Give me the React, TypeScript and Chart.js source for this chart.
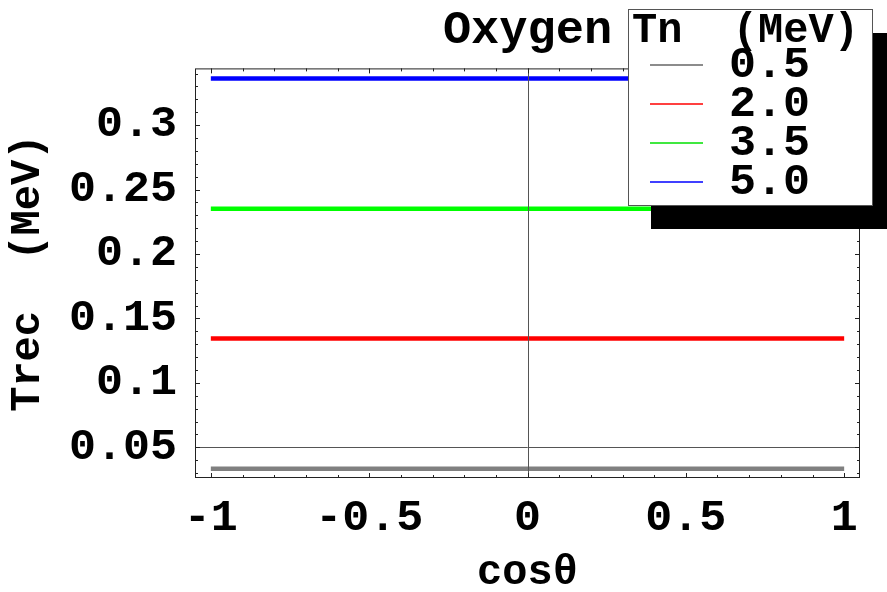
import React, { useEffect, useRef } from 'react';
import { Chart, registerables } from 'chart.js';

Chart.register(...registerables);

// ---- data ----
const cosTheta = [-1, -0.5, 0, 0.5, 1];
const seriesLabels = ['0.5', '2.0', '3.5', '5.0'];
const trecTn05 = [0.0333, 0.0333, 0.0333, 0.0333, 0.0333];
const trecTn20 = [0.1345, 0.1345, 0.1345, 0.1345, 0.1345];
const trecTn35 = [0.2352, 0.2352, 0.2352, 0.2352, 0.2352];
const trecTn50 = [0.3362, 0.3362, 0.3362, 0.3362, 0.3362];
const seriesColors = ['#808080', '#ff0000', '#00ff00', '#0000ff'];
const legendLineColors = ['#666666', '#ff0000', '#00e000', '#0000ff'];
const xTickValues = [-1, -0.5, 0, 0.5, 1];
const xTickLabels = ['-1', '-0.5', '0', '0.5', '1'];
const yTickValues = [0.05, 0.1, 0.15, 0.2, 0.25, 0.3];
const yTickLabels = ['0.05', '0.1', '0.15', '0.2', '0.25', '0.3'];
const chartTitle = 'Oxygen';
const legendTitle = 'Tn  (MeV)';
const xTitle = 'cosθ';
const yTitle = 'Trec  (MeV)';

const MONO = '"Liberation Mono", "DejaVu Sans Mono", monospace';

const framePlugin = {
  id: 'mmaFrame',
  afterDatasetsDraw(chart: any) {
    const { ctx, chartArea } = chart;
    const { left, right, top, bottom } = chartArea;
    const xs = chart.scales.x;
    const ys = chart.scales.y;
    ctx.save();
    // Mathematica axes through origin (0, 0.05)
    ctx.strokeStyle = '#555555';
    ctx.lineWidth = 1;
    const x0 = Math.round(xs.getPixelForValue(0)) + 0.5;
    const y0 = Math.round(ys.getPixelForValue(0.05)) + 0.5;
    ctx.beginPath();
    ctx.moveTo(x0, top);
    ctx.lineTo(x0, bottom);
    ctx.moveTo(left, y0);
    ctx.lineTo(right, y0);
    ctx.stroke();
    // frame
    ctx.strokeStyle = '#222222';
    ctx.strokeRect(left + 0.5, top + 0.5, right - left - 1, bottom - top - 1);
    // ticks
    ctx.beginPath();
    for (let i = -10; i <= 10; i++) {
      const px = Math.round(xs.getPixelForValue(i / 10)) + 0.5;
      const len = i % 5 === 0 ? 5 : 3;
      ctx.moveTo(px, bottom);
      ctx.lineTo(px, bottom - len);
      ctx.moveTo(px, top);
      ctx.lineTo(px, top + len);
    }
    for (let i = 3; i <= 34; i++) {
      const py = Math.round(ys.getPixelForValue(i / 100)) + 0.5;
      const len = i % 5 === 0 ? 5 : 3;
      ctx.moveTo(left, py);
      ctx.lineTo(left + len, py);
      ctx.moveTo(right, py);
      ctx.lineTo(right - len, py);
    }
    ctx.stroke();
    ctx.restore();
  },
};

const legendPlugin = {
  id: 'mmaLegend',
  afterDraw(chart: any) {
    const { ctx } = chart;
    const bx = 628, by = 9, bw = 244, bh = 196;
    ctx.save();
    // shadow
    ctx.fillStyle = '#000000';
    ctx.fillRect(bx + 23, by + 24, bw, bh);
    // box
    ctx.fillStyle = '#ffffff';
    ctx.fillRect(bx, by, bw, bh);
    ctx.strokeStyle = '#555555';
    ctx.lineWidth = 1;
    ctx.strokeRect(bx + 0.5, by + 0.5, bw, bh);
    // title
    ctx.fillStyle = '#000000';
    ctx.textBaseline = 'middle';
    ctx.textAlign = 'left';
    ctx.font = `bold 42px ${MONO}`;
    ctx.fillText(legendTitle, bx + 4, by + 22);
    // entries
    ctx.font = `bold 45px ${MONO}`;
    chart.data.datasets.forEach((ds: any, i: number) => {
      const cy = by + 56 + i * 39;
      ctx.strokeStyle = legendLineColors[i];
      ctx.lineWidth = 1.5;
      ctx.beginPath();
      ctx.moveTo(bx + 22, cy);
      ctx.lineTo(bx + 75, cy);
      ctx.stroke();
      ctx.fillText(ds.label, bx + 101, cy + 1);
    });
    ctx.restore();
  },
};

export default function App() {
  const canvasRef = useRef<HTMLCanvasElement | null>(null);

  useEffect(() => {
    const canvas = canvasRef.current;
    if (!canvas) return;
    const seriesValues = [trecTn05, trecTn20, trecTn35, trecTn50];
    const chart = new Chart(canvas, {
      type: 'line',
      data: {
        datasets: seriesValues.map((vals, i) => ({
          label: seriesLabels[i],
          data: cosTheta.map((x, j) => ({ x, y: vals[j] })),
          borderColor: seriesColors[i],
          backgroundColor: seriesColors[i],
          borderWidth: 4.5,
          borderCapStyle: 'butt' as const,
          pointRadius: 0,
          fill: false,
          tension: 0,
        })),
      },
      options: {
        responsive: false,
        animation: false,
        devicePixelRatio: 1,
        layout: { padding: { left: 0, right: 27, top: 0, bottom: 0 } },
        plugins: {
          legend: { display: false },
          tooltip: { enabled: false },
          title: {
            display: true,
            text: chartTitle,
            fullSize: false,
            color: '#000000',
            font: { family: MONO, size: 47, weight: 'bold', lineHeight: 1.2 },
            padding: { top: 3, bottom: 9 },
          },
        },
        scales: {
          x: {
            type: 'linear',
            min: -1.05,
            max: 1.05,
            grid: { display: false, drawTicks: false },
            border: { display: false },
            afterBuildTicks: (scale: any) => {
              scale.ticks = xTickValues.map((value) => ({ value }));
            },
            afterFit: (scale: any) => {
              scale.height = 114;
            },
            ticks: {
              autoSkip: false,
              maxRotation: 0,
              minRotation: 0,
              padding: 14,
              color: '#000000',
              font: { family: MONO, size: 45, weight: 'bold' },
              callback: (value: any) => {
                const k = xTickValues.findIndex((v) => Math.abs(v - Number(value)) < 1e-9);
                return k >= 0 ? xTickLabels[k] : '';
              },
            },
            title: {
              display: true,
              text: xTitle,
              color: '#000000',
              font: { family: MONO, size: 42, weight: 'bold', lineHeight: 0.9 },
              padding: { top: 0, bottom: 0 },
            },
          },
          y: {
            type: 'linear',
            min: 0.0262,
            max: 0.344,
            grid: { display: false, drawTicks: false },
            border: { display: false },
            afterBuildTicks: (scale: any) => {
              scale.ticks = yTickValues.map((value) => ({ value }));
            },
            afterFit: (scale: any) => {
              scale.width = 195;
            },
            ticks: {
              autoSkip: false,
              padding: 18,
              color: '#000000',
              font: { family: MONO, size: 45, weight: 'bold' },
              callback: (value: any) => {
                const k = yTickValues.findIndex((v) => Math.abs(v - Number(value)) < 1e-9);
                return k >= 0 ? yTickLabels[k] : '';
              },
            },
            title: {
              display: true,
              text: yTitle,
              color: '#000000',
              font: { family: MONO, size: 42, weight: 'bold', lineHeight: 1 },
              padding: { top: 7, bottom: 0 },
            },
          },
        },
      },
      plugins: [framePlugin, legendPlugin],
    });
    return () => chart.destroy();
  }, []);

  return (
    <div style={{ position: 'fixed', left: 0, top: 0, width: 887, height: 592, background: '#ffffff' }}>
      <canvas ref={canvasRef} width={887} height={592} style={{ display: 'block', width: 887, height: 592 }} />
    </div>
  );
}
